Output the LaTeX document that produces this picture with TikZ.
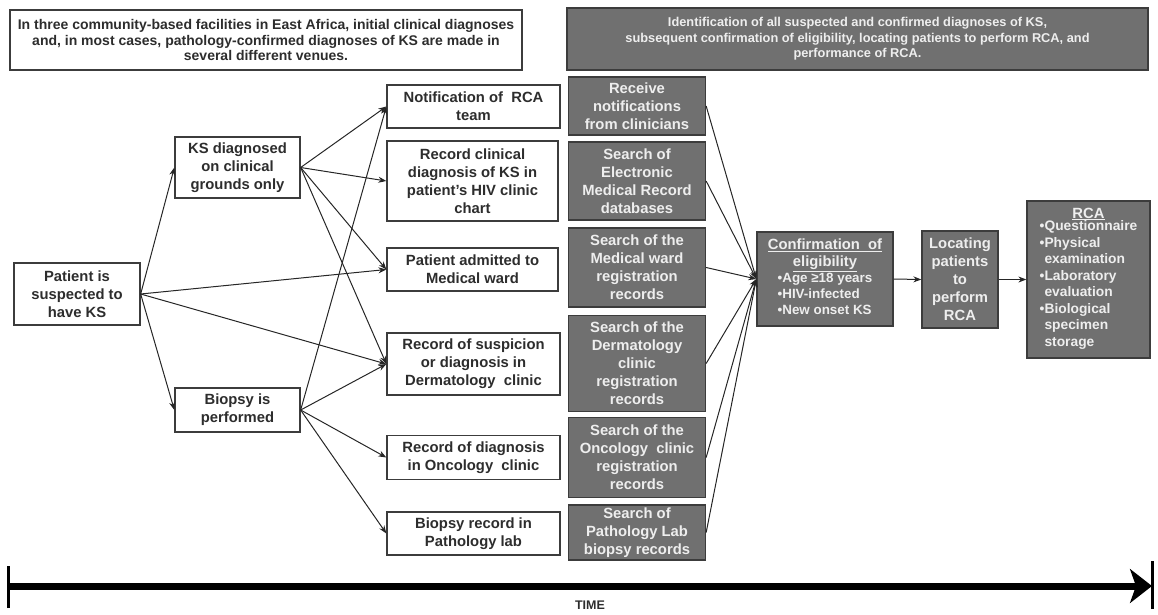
\documentclass[tikz,border=0pt]{standalone}
\usepackage{fontspec}
\setmainfont{Liberation Sans}
\usetikzlibrary{arrows.meta}
\definecolor{gfill}{RGB}{112,112,112}
\definecolor{gline}{RGB}{60,60,60}
\definecolor{wtext}{RGB}{45,45,45}
\definecolor{gtext}{RGB}{238,238,238}
\tikzset{
  wbox/.style={draw=gline, line width=1.3pt, fill=white, text=wtext, align=center, inner sep=1pt,
    font=\fontsize{14.8}{18}\selectfont\bfseries},
  gbox/.style={draw=gline, line width=1.3pt, fill=gfill, text=gtext, align=center, inner sep=1pt,
    font=\fontsize{14.8}{18}\selectfont\bfseries},
  arr/.style={draw=black!85, line width=1pt, -{Stealth[length=8pt,width=6pt]}},
}
\newcommand{\bl}{\textbullet}
\begin{document}
\begin{tikzpicture}[x=1pt,y=-1pt]
\useasboundingbox (0,0) rectangle (1158,614);
% header boxes
\node[wbox, minimum width=512pt, minimum height=60pt, font=\fontsize{14}{15.5}\selectfont\bfseries] (topL) at (266,40)
 {In three community-based  facilities in East Africa, initial clinical diagnoses\\
  and, in most cases, pathology-confirmed  diagnoses of KS are made in\\
  several different venues.};
\node[gbox, minimum width=581pt, minimum height=62pt, font=\fontsize{12.8}{15.5}\selectfont\bfseries] (topR) at (857.5,39)
 {Identification of all suspected and confirmed diagnoses of KS,\\
  subsequent confirmation of eligibility, locating patients to perform RCA, and\\
  performance of RCA.};
% left column
\node[wbox, minimum width=126pt, minimum height=62pt] (patient) at (77,294) {Patient is\\suspected to\\have KS};
\node[wbox, minimum width=125pt, minimum height=61pt] (ksd) at (237.5,167.5) {KS diagnosed\\on clinical\\grounds only};
\node[wbox, minimum width=125pt, minimum height=44pt] (biop) at (237.5,410) {Biopsy is\\performed};
% white venue column
\node[wbox, minimum width=173pt, minimum height=43pt] (notif) at (473.5,106.5) {Notification of \ RCA\\team};
\node[wbox, minimum width=171pt, minimum height=80pt] (rcl) at (472.5,181) {Record clinical\\diagnosis of KS in\\patient's HIV clinic\\chart};
\node[wbox, minimum width=171pt, minimum height=43pt] (adm) at (472.5,269.5) {Patient admitted to\\Medical ward};
\node[wbox, minimum width=173pt, minimum height=62pt] (susp) at (473.5,364) {Record of suspicion\\or diagnosis in\\Dermatology \ clinic};
\node[wbox, minimum width=173pt, minimum height=44pt] (onc) at (473.5,457.5) {Record of diagnosis\\in Oncology \ clinic};
\node[wbox, minimum width=173pt, minimum height=43pt] (path) at (473.5,533.5) {Biopsy record in\\Pathology lab};
% gray search column
\node[gbox, minimum width=137pt, minimum height=58pt] (grec) at (637,106) {Receive\\notifications\\from clinicians};
\node[gbox, minimum width=137pt, minimum height=78pt] (gemr) at (637,181) {Search of\\Electronic\\Medical Record\\databases};
\node[gbox, minimum width=137pt, minimum height=79pt] (gward) at (637,267.5) {Search of the\\Medical ward\\registration\\records};
\node[gbox, minimum width=137pt, minimum height=96pt] (gderm) at (637,363.5) {Search of the\\Dermatology\\clinic\\registration\\records};
\node[gbox, minimum width=137pt, minimum height=80pt] (gonc) at (637,457.5) {Search of the\\Oncology \ clinic\\registration\\records};
\node[gbox, minimum width=137pt, minimum height=55pt] (gpath) at (637,532.5) {Search of\\Pathology Lab\\biopsy records};
% right side
\node[gbox, minimum width=136pt, minimum height=94pt] (conf) at (825,279)
 {\underline{Confirmation \ of}\\[-1pt]\underline{eligibility}\\[-2pt]
  {\fontsize{13.4}{16}\selectfont\begin{tabular}{@{}l@{}}\bl Age ≥18 years\\ \bl HIV-infected\\ \bl New onset KS\end{tabular}}};
\node[gbox, minimum width=76pt, minimum height=97pt, font=\fontsize{14.8}{18}\selectfont\bfseries] (loc) at (960,279.5) {Locating\\patients\\to\\perform\\RCA};
\node[gbox, minimum width=123pt, minimum height=157pt] (rca) at (1088.5,279.5)
 {\underline{RCA}\\[-2pt]
  {\fontsize{13.8}{16.5}\selectfont\begin{tabular}{@{}l@{}l@{}}\bl&Questionnaire\\ \bl&Physical\\ &examination\\ \bl&Laboratory\\ &evaluation\\ \bl&Biological\\ &specimen\\ &storage\end{tabular}}};
% arrows left part
\draw[arr] (patient.east) -- (ksd.west);
\draw[arr] (patient.east) -- (biop.west);
\draw[arr] (patient.east) -- (adm.west);
\draw[arr] (patient.east) -- (susp.west);
\draw[arr] (ksd.east) -- (notif.west);
\draw[arr] (ksd.east) -- (rcl.west);
\draw[arr] (ksd.east) -- (adm.west);
\draw[arr] (ksd.east) -- (susp.west);
\draw[arr] (biop.east) -- (notif.west);
\draw[arr] (biop.east) -- (susp.west);
\draw[arr] (biop.east) -- (onc.west);
\draw[arr] (biop.east) -- (path.west);
% arrows to confirmation
\foreach \g in {grec,gemr,gward,gderm,gonc,gpath}
  \draw[arr] (\g.east) -- (conf.west);
\draw[arr] (conf.east) -- (loc.west);
\draw[arr] (loc.east) -- (rca.west);
% timeline
\coordinate (tl) at (8,586);
\coordinate (tr) at (1152,586);
\draw[line width=3pt] ([yshift=-22pt]tl) -- ([yshift=20pt]tl);
\draw[line width=3pt] ([yshift=-23pt]tr) -- ([yshift=25pt]tr);
\draw[line width=7pt, -{Stealth[length=22pt,width=34pt,inset=6pt]}] (tl) -- (tr);
\node[font=\fontsize{12.5}{14}\selectfont\bfseries, text=wtext] (time) at (590,605) {TIME};
\end{tikzpicture}
\end{document}
